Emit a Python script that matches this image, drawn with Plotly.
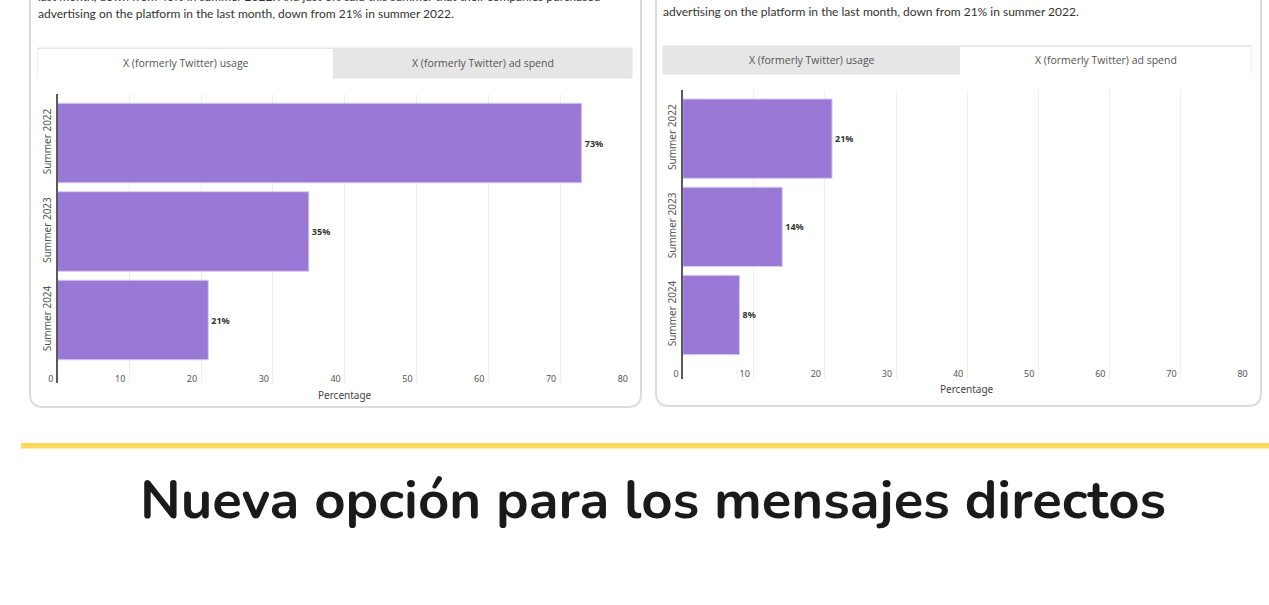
import plotly.graph_objects as go

W, H = 1269, 605

categories = ["Summer 2022", "Summer 2023", "Summer 2024"]
usage_values = [73, 35, 21]
adspend_values = [21, 14, 8]
tick_values = [0, 10, 20, 30, 40, 50, 60, 70, 80]
tab_labels = ["X (formerly Twitter) usage", "X (formerly Twitter) ad spend"]
intro_line = "advertising on the platform in the last month, down from 21% in summer 2022."
cut_line = "last month, down from 46% in summer 2022. And just 8% said this summer that their companies purchased"
axis_title = "Percentage"
heading = "Nueva opción para los mensajes directos"

BAR = "#9a78d6"
FONT = "Noto Sans"


def fx(p):
    return p / W


def fy(p):
    return 1 - p / H


fig = go.Figure()

for vals, xa, ya, xlab in [(usage_values, "x", "y", "x3"), (adspend_values, "x2", "y2", "x4")]:
    fig.add_trace(go.Bar(
        x=vals, y=categories, orientation="h",
        text=[f"{v}%" for v in vals], textposition="outside",
        textfont=dict(size=9, color="#333", family=FONT, weight="bold"),
        marker=dict(color=BAR, line=dict(color="#d9cdf2", width=1)),
        cliponaxis=False, xaxis=xa, yaxis=ya, hoverinfo="skip",
    ))
    fig.add_trace(go.Scatter(
        x=vals, y=categories, mode="markers", marker=dict(opacity=0),
        xaxis=xlab, yaxis=ya, hoverinfo="skip",
    ))

grid_axis = dict(
    range=[0, 80], tickvals=tick_values, showgrid=True, gridcolor="#eeeeee",
    gridwidth=1, zeroline=False, showline=False, ticks="",
    showticklabels=False, fixedrange=True, automargin=False,
)
label_axis = dict(
    range=[0, 80], tickvals=tick_values, showgrid=False, zeroline=False,
    showline=False, ticks="", ticklabelposition="outside left",
    ticklabelshift=-4, automargin=False,
    tickfont=dict(size=9, color="#555", family=FONT), fixedrange=True,
    anchor="free",
)
ycommon = dict(
    showline=True, linecolor="#5a5a5a", linewidth=2, showgrid=False,
    ticks="", tickangle=-90, zeroline=False, ticklabelstandoff=1,
    tickfont=dict(size=10, color="#555", family=FONT), fixedrange=True,
    type="category", automargin=False,
)

fig.update_layout(
    width=W, height=H, margin=dict(l=0, r=0, t=0, b=0, pad=0), autosize=False,
    paper_bgcolor="white", plot_bgcolor="rgba(0,0,0,0)",
    showlegend=False, bargap=0.1,
    xaxis=dict(domain=[fx(57.5), fx(632)], anchor="y", **grid_axis),
    yaxis=dict(domain=[fy(383), fy(94)], anchor="x", range=[2.712, -0.554], **ycommon),
    xaxis2=dict(domain=[fx(682.7), fx(1251.7)], anchor="y2", **grid_axis),
    yaxis2=dict(domain=[fy(379), fy(90)], anchor="x2", range=[2.726, -0.552], **ycommon),
    xaxis3=dict(overlaying="x", position=fy(372), **label_axis),
    xaxis4=dict(overlaying="x2", position=fy(367), **label_axis),
)


def rounded_card(x0, x1, top, bottom, r):
    X0, X1 = fx(x0), fx(x1)
    T, B = fy(top), fy(bottom)
    rx, ry = r / W, r / H
    return (f"M {X0},{T} L {X0},{B + ry} Q {X0},{B} {X0 + rx},{B} "
            f"L {X1 - rx},{B} Q {X1},{B} {X1},{B + ry} L {X1},{T}")


shapes = []
for x0, x1, bottom in [(30, 641, 407), (656, 1261, 406)]:
    shapes.append(dict(type="path", xref="paper", yref="paper",
                       path=rounded_card(x0, x1, -30, bottom, 13),
                       line=dict(color="#dcdcdc", width=2), layer="below"))
shapes.append(dict(type="rect", xref="paper", yref="paper",
                   x0=fx(38), x1=fx(632), y0=fy(78), y1=fy(48),
                   fillcolor="#e6e6e6", line=dict(color="#e3e3e3", width=1), layer="below"))
shapes.append(dict(type="rect", xref="paper", yref="paper",
                   x0=fx(38), x1=fx(333), y0=fy(79), y1=fy(49),
                   fillcolor="white", line=dict(width=0), layer="below"))
shapes.append(dict(type="rect", xref="paper", yref="paper",
                   x0=fx(663), x1=fx(1251), y0=fy(74), y1=fy(46),
                   fillcolor="#e6e6e6", line=dict(color="#e3e3e3", width=1), layer="below"))
shapes.append(dict(type="rect", xref="paper", yref="paper",
                   x0=fx(960), x1=fx(1251), y0=fy(75), y1=fy(47),
                   fillcolor="white", line=dict(width=0), layer="below"))
shapes.append(dict(type="rect", xref="paper", yref="paper",
                   x0=fx(21), x1=fx(1269), y0=fy(448.5), y1=fy(443),
                   fillcolor="#ffd95a", line=dict(width=0), layer="below"))
fig.update_layout(shapes=shapes)

ann = []


def text(x, y, s, size, color, xanchor="center", family=FONT, weight="normal"):
    ann.append(dict(xref="paper", yref="paper", x=fx(x), y=fy(y), text=s,
                    showarrow=False, xanchor=xanchor, yanchor="middle",
                    font=dict(size=size, color=color, family=family, weight=weight)))


text(36, -3.5, cut_line, 12, "#333", xanchor="left", family="Lato")
text(36, 14, intro_line, 12, "#333", xanchor="left", family="Lato")
text(661, 11, intro_line, 12, "#333", xanchor="left", family="Lato")
text(185.5, 63, tab_labels[0], 10.5, "#555", family="Open Sans")
text(482.5, 63, tab_labels[1], 10.5, "#555", family="Open Sans")
text(811.5, 60, tab_labels[0], 10.5, "#555", family="Open Sans")
text(1105.5, 60, tab_labels[1], 10.5, "#555", family="Open Sans")
text(345, 395, axis_title, 10, "#444")
text(967, 389, axis_title, 10, "#444")
text(653, 500, heading, 54.5, "#1a1a1a", family="Nunito, Noto Sans", weight="bold")
fig.update_layout(annotations=ann)

fig.write_html(
    "out.html",
    config={"displayModeBar": False, "responsive": False, "staticPlot": True},
    post_script="document.documentElement.style.margin='0';document.body.style.margin='0';"
                "document.body.style.padding='0';document.body.style.overflow='hidden';",
)
